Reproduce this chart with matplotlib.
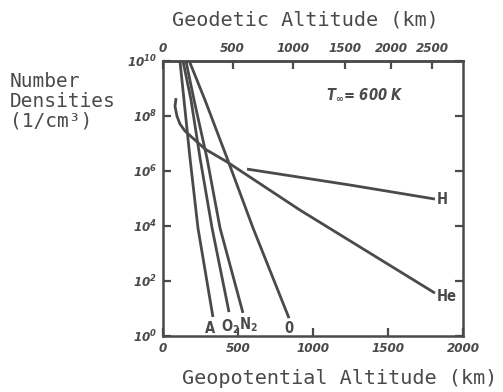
import numpy as np
import matplotlib
matplotlib.use("Agg")
import matplotlib.pyplot as plt

plt.rcParams["mathtext.default"] = "regular"

INK = "#4a4a4a"
NARROW = "DejaVu Sans"
MONO = "DejaVu Sans Mono"

# Earth radius used for geopotential <-> geodetic conversion (km)
R_EARTH = 6356.77

# altitude (km, geopotential) and log10 number density (1/cm^3)
a_alt = [113, 140, 180, 233, 333]
a_logn = [10, 8.58, 6.47, 3.93, 0.69]

o2_alt = [133, 187, 247, 327, 440]
o2_logn = [10, 8.58, 6.47, 3.93, 0.87]

n2_alt = [153, 207, 293, 380, 533]
n2_logn = [10, 8.58, 6.47, 3.93, 0.84]

o_alt = [175, 280, 427, 600, 840]
o_logn = [10, 8.58, 6.47, 3.93, 0.65]

he_alt = [87, 80, 93, 113, 147, 280, 427, 913, 1813]
he_logn = [8.65, 8.36, 8.0, 7.71, 7.45, 6.8, 6.33, 4.58, 1.56]

h_alt = [560, 1247, 1813]
h_logn = [6.07, 5.49, 4.98]

bottom_ticks = [0, 500, 1000, 1500, 2000]
top_ticks = [0, 500, 1000, 1500, 2000, 2500]
y_exps = [0, 2, 4, 6, 8, 10]


def geopot_to_geodetic(h):
    h = np.asarray(h, dtype=float)
    return R_EARTH * h / (R_EARTH - h)


def geodetic_to_geopot(z):
    z = np.asarray(z, dtype=float)
    return R_EARTH * z / (R_EARTH + z)


def style_ticklabels(labels, size=9.5):
    for lbl in labels:
        lbl.set_family(NARROW)
        lbl.set_stretch("condensed")
        lbl.set_style("italic")
        lbl.set_weight("bold")
        lbl.set_size(size)


fig = plt.figure(figsize=(5.03, 3.92), dpi=100)
ax = fig.add_axes([163 / 503, 1 - 336 / 392, 300 / 503, 275 / 392])

for alt, logn in [(a_alt, a_logn), (o2_alt, o2_logn), (n2_alt, n2_logn),
                  (o_alt, o_logn), (he_alt, he_logn), (h_alt, h_logn)]:
    ax.plot(alt, 10 ** np.array(logn), color=INK, lw=2.0,
            solid_capstyle="butt")

ax.set_yscale("log")
ax.set_xlim(0, 2000)
ax.set_ylim(1, 1e10)

ax.set_xticks(bottom_ticks)
ax.set_xticklabels([str(t) for t in bottom_ticks])
ax.set_yticks([10.0 ** e for e in y_exps])
ax.set_yticklabels([r"$10^{%d}$" % e for e in y_exps])
ax.minorticks_off()
ax.tick_params(direction="in", length=6, width=1.6, color=INK,
               right=True, labelcolor=INK, pad=4)
style_ticklabels(ax.get_xticklabels() + ax.get_yticklabels())
for sp in ax.spines.values():
    sp.set_color(INK)
    sp.set_linewidth(1.8)

top = ax.secondary_xaxis("top", functions=(geopot_to_geodetic, geodetic_to_geopot))
top.set_xticks(top_ticks)
top.set_xticklabels([str(t) for t in top_ticks])
top.tick_params(direction="in", length=6, width=1.6, color=INK,
                labelcolor=INK, pad=4)
style_ticklabels(top.get_xticklabels())
top.spines["top"].set_color(INK)
top.spines["top"].set_linewidth(1.8)

# species labels at the ends of the curves
label_kw = dict(color=INK, family=NARROW, stretch="condensed", weight="bold",
                size=10.5, ha="center", va="center")
ax.text(313, 10 ** 0.29, "A", **label_kw)
ax.text(447, 10 ** 0.33, "O$_2$", **label_kw)
ax.text(567, 10 ** 0.4, "N$_2$", **label_kw)
ax.text(840, 10 ** 0.29, "0", **label_kw)
ax.text(1860, 10 ** 4.98, "H", **label_kw)
ax.text(1893, 10 ** 1.45, "He", **label_kw)

ax.text(1347, 10 ** 8.76, r"$T_{\infty}$= 600 K", color=INK, family=NARROW,
        stretch="condensed", style="italic", weight="bold", size=10.5,
        ha="center", va="center")

fig.text(305 / 503, 1 - 20 / 392, "Geodetic Altitude (km)", family=MONO,
         size=14.5, color=INK, ha="center", va="center")
fig.text(340 / 503, 1 - 378 / 392, "Geopotential Altitude (km)", family=MONO,
         size=14.5, color=INK, ha="center", va="center")
fig.text(10 / 503, 1 - 72 / 392, "Number\nDensities\n(1/cm\u00b3)", family=MONO,
         size=14, color=INK, ha="left", va="top", linespacing=1.05)

fig.savefig("out.png", dpi=100)
